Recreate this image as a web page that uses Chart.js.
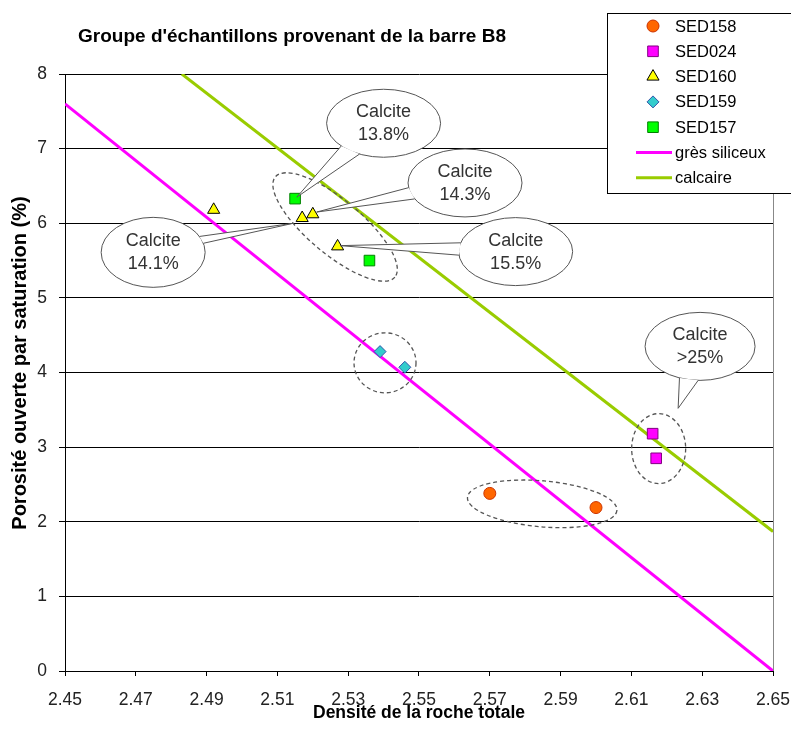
<!DOCTYPE html>
<html>
<head>
<meta charset="utf-8">
<title>Groupe d'échantillons provenant de la barre B8</title>
<script src="https://cdn.jsdelivr.net/npm/chart.js@4.4.0/dist/chart.umd.min.js"></script>
<style>
  html, body { margin: 0; padding: 0; background: #fff; }
  canvas { display: block; }
</style>
</head>
<body>
<canvas id="chart" width="791" height="738"></canvas>
<script>
// values
const xTicks = [2.45, 2.47, 2.49, 2.51, 2.53, 2.55, 2.57, 2.59, 2.61, 2.63, 2.65];
const yTicks = [0, 1, 2, 3, 4, 5, 6, 7, 8];

const sed158X = [2.570, 2.600];
const sed158Y = [2.38, 2.19];
const sed024X = [2.616, 2.617];
const sed024Y = [3.18, 2.85];
const sed160X = [2.492, 2.517, 2.520, 2.527];
const sed160Y = [6.18, 6.07, 6.12, 5.69];
const sed159X = [2.539, 2.546];
const sed159Y = [4.28, 4.07];
const sed157X = [2.515, 2.536];
const sed157Y = [6.33, 5.50];
const siliceuxX = [2.45, 2.65];
const siliceuxY = [7.6, 0];
const calcaireX = [2.483, 2.65];
const calcaireY = [8, 1.87];

const seriesNames = ['SED158', 'SED024', 'SED160', 'SED159', 'SED157', 'grès siliceux', 'calcaire'];

const calloutText = [['Calcite', '13.8%'], ['Calcite', '14.3%'], ['Calcite', '14.1%'], ['Calcite', '15.5%'], ['Calcite', '>25%']];

const FONT = '"Liberation Sans", Arial, sans-serif';

function pts(xs, ys) {
    return xs.map((x, i) => ({ x: x, y: ys[i] }));
}

function markerSet(label, xs, ys, style, r, fill, border) {
    return {
        type: 'scatter', label: label, data: pts(xs, ys),
        pointStyle: style, pointRadius: r, pointHoverRadius: r,
        backgroundColor: fill, borderColor: border, borderWidth: 1
    };
}

function lineSet(label, xs, ys, color) {
    return {
        type: 'line', label: label, data: pts(xs, ys),
        borderColor: color, backgroundColor: color, borderWidth: 3,
        pointRadius: 0, pointHoverRadius: 0, fill: false, tension: 0
    };
}

// callout bubbles: centre and tip in data units, base angles on the ellipse in degrees
const callouts = [
    { at: [2.5400, 7.34], tip: [2.5155, 6.35], a1: 138, a2: 115, rx: 57, ry: 34 },
    { at: [2.5630, 6.54], tip: [2.5211, 6.15], a1: 172, a2: 152, rx: 57, ry: 34 },
    { at: [2.4749, 5.61], tip: [2.5145, 6.00], a1: -27, a2: -15, rx: 52, ry: 35 },
    { at: [2.5773, 5.62], tip: [2.5277, 5.70], a1: 195, a2: 174, rx: 57, ry: 34 },
    { at: [2.6294, 4.35], tip: [2.6232, 3.52], a1: 112, a2: 92, rx: 55, ry: 34 }
];

// dashed rings round the sample groups
const groups = [
    { at: [2.5263, 5.95], rx: 78, ry: 27, rot: 40 },
    { at: [2.5404, 4.13], rx: 31, ry: 30, rot: 0 },
    { at: [2.6177, 2.98], rx: 27, ry: 35, rot: 0 },
    { at: [2.5848, 2.24], rx: 75, ry: 23, rot: 5 }
];

const extras = {
    id: 'extras',
    beforeDatasetsDraw(chart) {
        const { ctx, chartArea } = chart;
        ctx.save();
        ctx.strokeStyle = '#888';
        ctx.lineWidth = 1;
        ctx.beginPath();
        ctx.moveTo(Math.round(chartArea.right) + 0.5, chartArea.top);
        ctx.lineTo(Math.round(chartArea.right) + 0.5, chartArea.bottom);
        ctx.stroke();
        ctx.restore();
    },
    afterDatasetsDraw(chart) {
        const { ctx } = chart;
        const xs = chart.scales.x, ys = chart.scales.y;
        ctx.save();

        ctx.strokeStyle = '#555';
        ctx.lineWidth = 1.3;
        ctx.setLineDash([4, 3]);
        groups.forEach(g => {
            ctx.beginPath();
            ctx.ellipse(xs.getPixelForValue(g.at[0]), ys.getPixelForValue(g.at[1]), g.rx, g.ry, g.rot * Math.PI / 180, 0, Math.PI * 2);
            ctx.stroke();
        });
        ctx.setLineDash([]);

        callouts.forEach((c, i) => {
            const cx = xs.getPixelForValue(c.at[0]);
            const cy = ys.getPixelForValue(c.at[1]);
            const tx = xs.getPixelForValue(c.tip[0]);
            const ty = ys.getPixelForValue(c.tip[1]);
            const b1 = [cx + c.rx * Math.cos(c.a1 * Math.PI / 180), cy + c.ry * Math.sin(c.a1 * Math.PI / 180)];
            const b2 = [cx + c.rx * Math.cos(c.a2 * Math.PI / 180), cy + c.ry * Math.sin(c.a2 * Math.PI / 180)];
            ctx.fillStyle = '#fff';
            ctx.strokeStyle = '#555';
            ctx.lineWidth = 1;
            ctx.beginPath();
            ctx.ellipse(cx, cy, c.rx, c.ry, 0, 0, Math.PI * 2);
            ctx.fill();
            ctx.stroke();
            ctx.beginPath();
            ctx.moveTo(b1[0], b1[1]);
            ctx.lineTo(tx, ty);
            ctx.lineTo(b2[0], b2[1]);
            ctx.closePath();
            ctx.fill();
            ctx.beginPath();
            ctx.moveTo(b1[0], b1[1]);
            ctx.lineTo(tx, ty);
            ctx.lineTo(b2[0], b2[1]);
            ctx.stroke();

            ctx.fillStyle = '#333';
            ctx.font = '18px ' + FONT;
            ctx.textAlign = 'center';
            ctx.textBaseline = 'middle';
            ctx.fillText(calloutText[i][0], cx, cy - 11);
            ctx.fillText(calloutText[i][1], cx, cy + 12);
        });
        ctx.restore();
    },
    afterDraw(chart) {
        const { ctx } = chart;
        ctx.save();

        // title
        ctx.fillStyle = '#000';
        ctx.font = 'bold 19px ' + FONT;
        ctx.textAlign = 'center';
        ctx.textBaseline = 'alphabetic';
        ctx.fillText("Groupe d'échantillons provenant de la barre B8", 292, 42);

        // y axis title
        ctx.save();
        ctx.translate(20, 363);
        ctx.rotate(-Math.PI / 2);
        ctx.font = 'bold 20px ' + FONT;
        ctx.textBaseline = 'middle';
        ctx.fillText('Porosité ouverte par saturation (%)', 0, 0);
        ctx.restore();

        // legend box
        ctx.fillStyle = '#fff';
        ctx.fillRect(607, 13, 190, 180);
        ctx.strokeStyle = '#000';
        ctx.lineWidth = 1;
        ctx.strokeRect(607.5, 13.5, 200, 180);

        ctx.font = '16.5px ' + FONT;
        ctx.textAlign = 'left';
        ctx.textBaseline = 'middle';
        chart.data.datasets.forEach((ds, i) => {
            const yy = 26 + i * 25.3;
            if (ds.type === 'line') {
                ctx.strokeStyle = ds.borderColor;
                ctx.lineWidth = 3;
                ctx.beginPath();
                ctx.moveTo(636, yy);
                ctx.lineTo(672, yy);
                ctx.stroke();
            } else {
                ctx.fillStyle = ds.backgroundColor;
                ctx.strokeStyle = ds.borderColor;
                ctx.lineWidth = 1;
                Chart.helpers.drawPoint(ctx, { pointStyle: ds.pointStyle, radius: ds.pointRadius, rotation: 0, borderWidth: 1 }, 653, yy);
            }
            ctx.fillStyle = '#000';
            ctx.fillText(ds.label, 675, yy + 1);
        });
        ctx.restore();
    }
};

new Chart(document.getElementById('chart'), {
    type: 'scatter',
    data: {
        datasets: [
            markerSet(seriesNames[0], sed158X, sed158Y, 'circle', 6, '#FF6600', '#CC3300'),
            markerSet(seriesNames[1], sed024X, sed024Y, 'rect', 7.5, '#FF00FF', '#800080'),
            markerSet(seriesNames[2], sed160X, sed160Y, 'triangle', 7, '#FFFF00', '#000000'),
            markerSet(seriesNames[3], sed159X, sed159Y, 'rectRot', 6, '#33CCCC', '#3355AA'),
            markerSet(seriesNames[4], sed157X, sed157Y, 'rect', 7.5, '#00FF00', '#008000'),
            lineSet(seriesNames[5], siliceuxX, siliceuxY, '#FF00FF'),
            lineSet(seriesNames[6], calcaireX, calcaireY, '#99CC00')
        ]
    },
    options: {
        responsive: false,
        animation: false,
        events: [],
        layout: { padding: { top: 74, right: 0, left: 0, bottom: 0 } },
        plugins: {
            legend: { display: false },
            title: { display: false },
            tooltip: { enabled: false }
        },
        scales: {
            x: {
                type: 'linear', min: 2.45, max: 2.65,
                afterBuildTicks: s => { s.ticks = xTicks.map(v => ({ value: v })); },
                afterFit: s => { s.height = 67; s.paddingLeft = 0; s.paddingRight = 18; },
                grid: { drawOnChartArea: false, drawTicks: true, tickLength: 5, color: '#000' },
                border: { color: '#000' },
                ticks: {
                    padding: 14, color: '#222', maxRotation: 0,
                    font: { family: FONT, size: 17.5 },
                    callback: v => v.toFixed(2)
                },
                title: {
                    display: true, text: 'Densité de la roche totale', color: '#000',
                    font: { family: FONT, size: 17.5, weight: 'bold' },
                    padding: { top: 0, bottom: 14 }
                }
            },
            y: {
                type: 'linear', min: 0, max: 8,
                afterBuildTicks: s => { s.ticks = yTicks.map(v => ({ value: v })); },
                afterFit: s => { s.width = 65; },
                grid: { drawTicks: true, tickLength: 6, color: '#000' },
                border: { color: '#000' },
                ticks: {
                    padding: 12, color: '#222',
                    font: { family: FONT, size: 17.5 }
                },
                title: { display: false }
            }
        }
    },
    plugins: [extras]
});
</script>
</body>
</html>
